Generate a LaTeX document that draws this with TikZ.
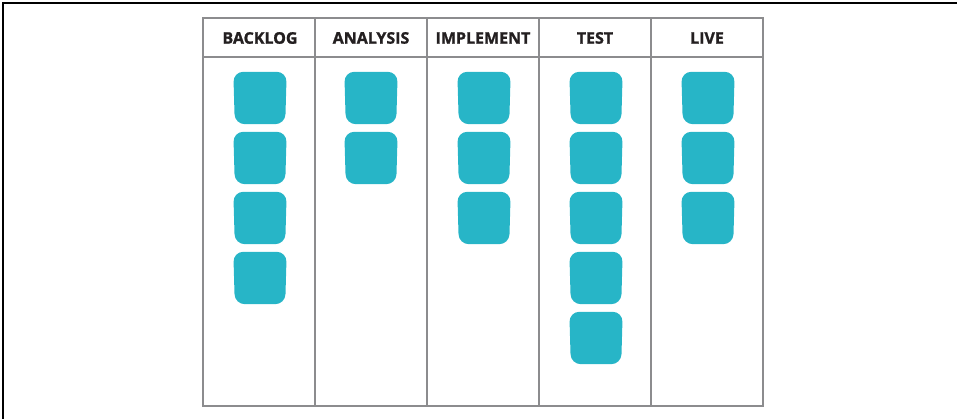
\documentclass[tikz,border=0pt]{standalone}
\usepackage{fontspec}
\setmainfont{Open Sans}
\newfontfamily\headfont[BoldFeatures={FakeBold=1.3}]{Open Sans}
\definecolor{cardc}{HTML}{27B5C7}
\definecolor{gridc}{HTML}{8C8C8E}
\definecolor{headc}{HTML}{231F20}
\tikzset{
  cardbox/.style={shape=rectangle, minimum width=53pt, minimum height=52pt, inner sep=0pt},
  cardfill/.style={fill=cardc, rounded corners=10pt},
  head/.style={font=\headfont\bfseries\fontsize{16}{18}\selectfont, text=headc},
  grid/.style={draw=gridc, line width=2pt},
  frame/.style={draw=black, line width=1.4pt}
}
\newcommand\mycard[3]{%
  \node[cardbox] (#1) at (#2,#3) {};
  \path[cardfill] (#1.north west) -- (#1.north east)
     -- ([xshift=-1.5pt]#1.south east) -- ([xshift=1.5pt]#1.south west) -- cycle;
}
\begin{document}
\begin{tikzpicture}[x=1pt,y=-1pt]
\useasboundingbox (0,0) rectangle (957,419);
\draw[frame] (3,419) -- (3,3) -- (957,3);
\draw[grid] (203,18) rectangle (763,406);
\draw[grid] (203,57) -- (763,57);
\foreach \x in {315,427,539,651} \draw[grid] (\x,18) -- (\x,406);
\node[head] (h1) at (260,38) {BACKLOG};
\node[head] (h2) at (371,38) {ANALYSIS};
\node[head] (h3) at (483,38) {IMPLEMENT};
\node[head] (h4) at (595,38) {TEST};
\node[head] (h5) at (707,38) {LIVE};
\mycard{b1}{260}{98}\mycard{b2}{260}{158}\mycard{b3}{260}{218}\mycard{b4}{260}{278}
\mycard{a1}{371}{98}\mycard{a2}{371}{158}
\mycard{m1}{484}{98}\mycard{m2}{484}{158}\mycard{m3}{484}{218}
\mycard{t1}{596}{98}\mycard{t2}{596}{158}\mycard{t3}{596}{218}\mycard{t4}{596}{278}\mycard{t5}{596}{338}
\mycard{l1}{708}{98}\mycard{l2}{708}{158}\mycard{l3}{708}{218}
\end{tikzpicture}
\end{document}
